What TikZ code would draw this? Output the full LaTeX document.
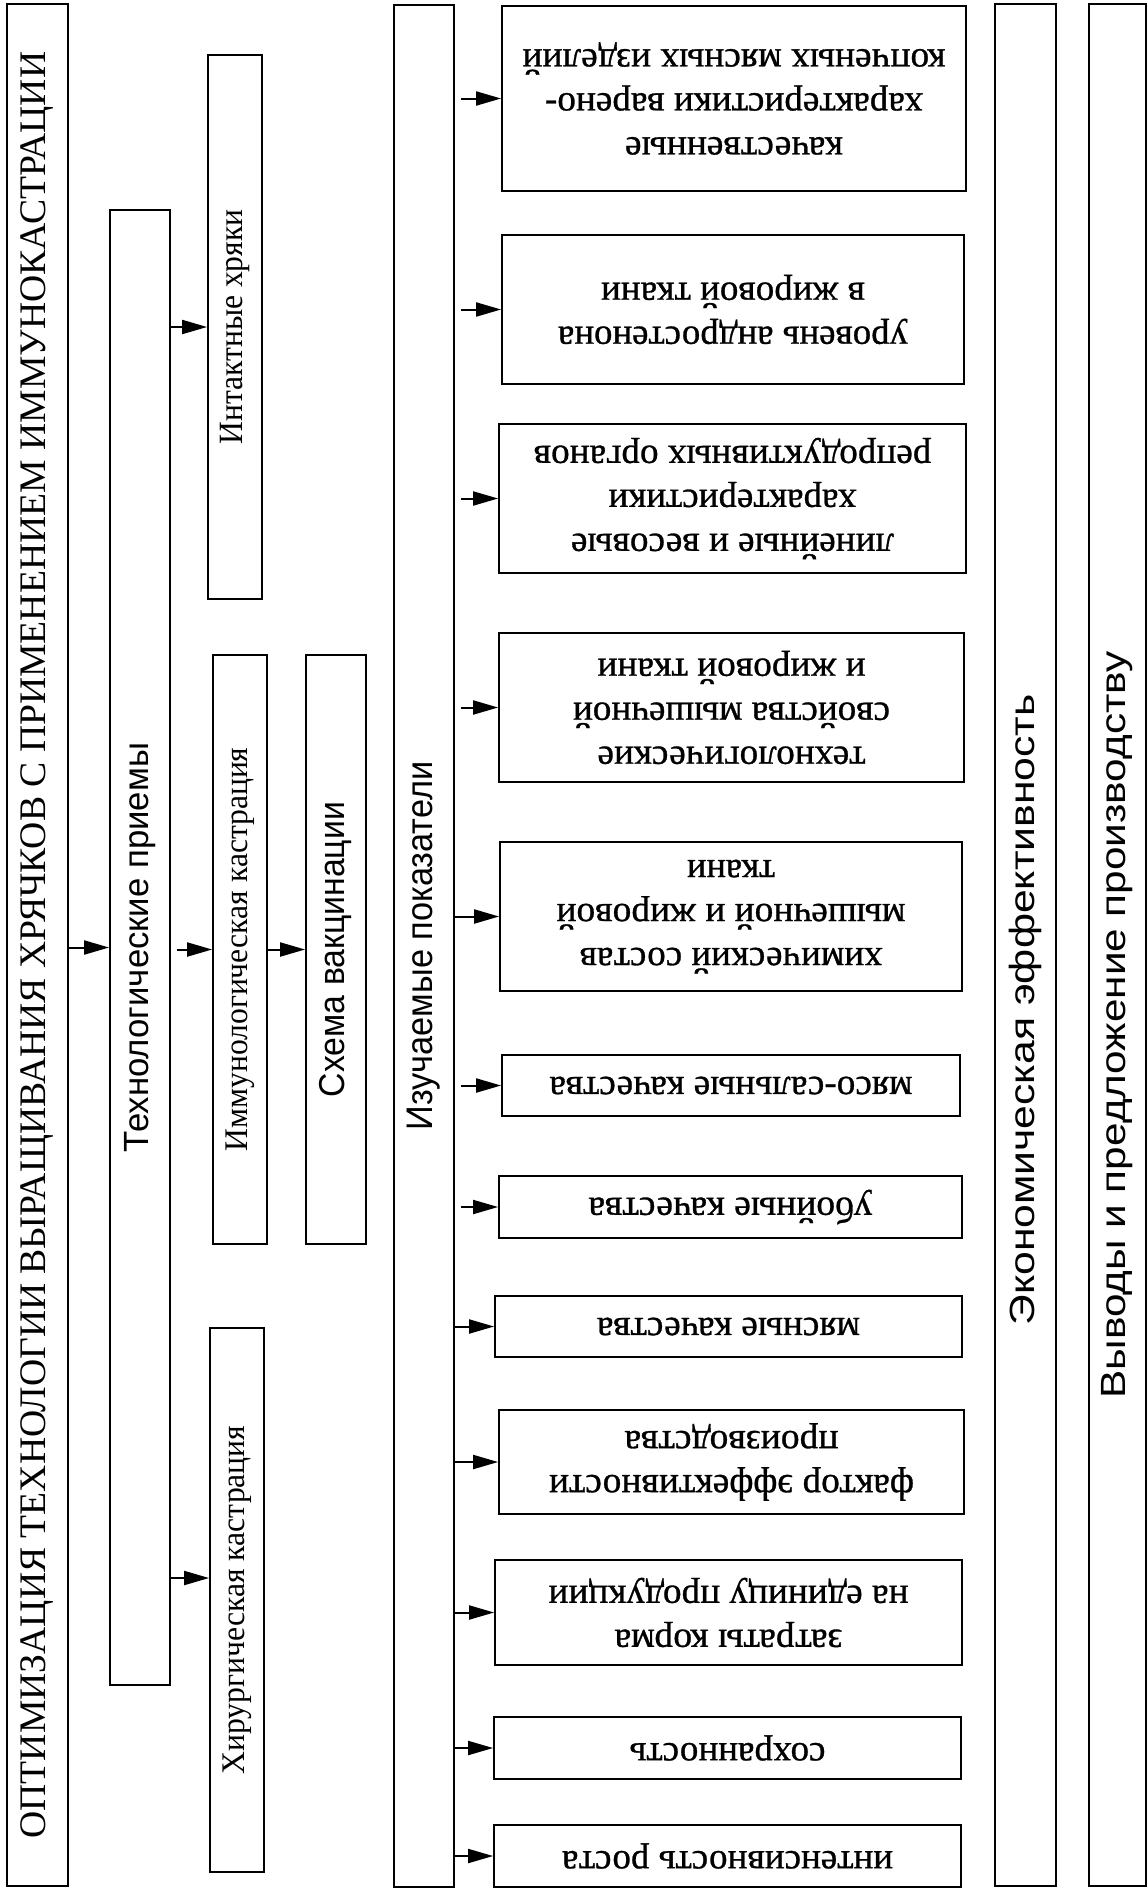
\documentclass[tikz,border=0pt]{standalone}
\usepackage{fontspec}
\setmainfont{Liberation Serif}
\setsansfont{Liberation Sans}
\newfontfamily\rbfont[FakeBold=0.8]{Liberation Serif}
\usepackage{graphicx}
\usetikzlibrary{arrows.meta,fit}
\newcommand{\fitw}[2]{\resizebox{#1pt}{\height}{#2}}
\begin{document}
\begin{tikzpicture}[x=1pt,y=-1pt,
  box/.style={draw, line width=1.8pt, inner sep=0pt},
  vt/.style={rotate=90, inner sep=0pt},
  ut/.style={rotate=180, inner sep=0pt, align=center, font=\rbfont\fontsize{37}{44}\selectfont},
  arr/.style={line width=2pt, -{Triangle[length=25pt,width=14pt]}},
  gap/.style={shorten <=6pt}
]
\useasboundingbox[fill=white] (0,0) rectangle (1148,1890);

% left part
\node[box, fit={(7,4)(68,1886)}] (main) {};
\node[box, fit={(110,210)(170,1685)}] (tex) {};
\node[box, fit={(208,55)(262,599)}] (intact) {};
\node[box, fit={(213,655)(267,1244)}] (imm) {};
\node[box, fit={(306,655)(366,1244)}] (shema) {};
\node[box, fit={(210,1328)(264,1872)}] (hir) {};
\node[box, fit={(394,5)(454,1887)}] (izuch) {};
\node[box, fit={(995,4)(1056,1886)}] (econ) {};
\node[box, fit={(1089,4)(1146,1886)}] (vyv) {};

\node[vt, font=\fontsize{37.5}{44}\selectfont] (ttitle) at (main.center) {\fitw{1787}{ОПТИМИЗАЦИЯ ТЕХНОЛОГИИ ВЫРАЩИВАНИЯ ХРЯЧКОВ С ПРИМЕНЕНИЕМ ИММУНОКАСТРАЦИИ}};
\node[vt, font=\sffamily\fontsize{35}{42}\selectfont] (ttex) at (tex.center) {\fitw{409}{Технологические приемы}};
\node[vt, font=\fontsize{34}{40}\selectfont] (tintact) at (intact.center) {\fitw{235}{Интактные хряки}};
\node[vt, font=\fontsize{33}{40}\selectfont] (timm) at (imm.center) {\fitw{404}{Иммунологическая кастрация}};
\node[vt, font=\sffamily\fontsize{36}{44}\selectfont] (tshema) at (shema.center) {\fitw{295}{Схема вакцинации}};
\node[vt, font=\fontsize{33}{40}\selectfont] (thir) at (hir.center) {\fitw{349}{Хирургическая кастрация}};
\node[vt, font=\sffamily\fontsize{37}{44}\selectfont] (tizuch) at (izuch.center) {\fitw{369}{Изучаемые показатели}};
\node[vt, font=\sffamily\fontsize{35}{44}\selectfont] (tecon) at (econ.center |- 0,1010) {\fitw{631}{Экономическая эффективность}};
\node[vt, font=\sffamily\fontsize{35}{44}\selectfont] (tvyv) at (vyv.center |- 0,1025) {\fitw{747}{Выводы и предложение производству}};

% right column boxes
\node[box, fit={(502,6)(966,191)}] (b1) {};
\node[box, fit={(502,235)(964,384)}] (b2) {};
\node[box, fit={(499,424)(966,573)}] (b3) {};
\node[box, fit={(499,633)(964,782)}] (b4) {};
\node[box, fit={(500,842)(962,991)}] (b5) {};
\node[box, fit={(502,1055)(960,1116)}] (b6) {};
\node[box, fit={(499,1176)(962,1238)}] (b7) {};
\node[box, fit={(495,1296)(962,1357)}] (b8) {};
\node[box, fit={(499,1410)(964,1514)}] (b9) {};
\node[box, fit={(495,1560)(962,1665)}] (b10) {};
\node[box, fit={(494,1717)(961,1779)}] (b11) {};
\node[box, fit={(494,1825)(961,1887)}] (b12) {};

\node[ut] (t1) at (b1.center) {\fitw{218}{качественные}\\\fitw{378}{характеристики варено-}\\\fitw{423}{копченых мясных изделий}};
\node[ut] (t2) at (b2.center) {\fitw{350}{уровень андростенона}\\\fitw{264}{в жировой ткани}};
\node[ut] (t3) at (b3.center) {\fitw{323}{линейные и весовые}\\\fitw{248}{характеристики}\\\fitw{398}{репродуктивных органов}};
\node[ut] (t4) at (b4.center) {\fitw{268}{технологические}\\\fitw{317}{свойства мышечной}\\\fitw{268}{и жировой ткани}};
\node[ut] (t5) at (b5.center) {\fitw{303}{химический состав}\\\fitw{349}{мышечной и жировой}\\\fitw{88}{ткани}};
\node[ut] (t6) at (b6.center) {\fitw{363}{мясо-сальные качества}};
\node[ut] (t7) at (b7.center) {\fitw{284}{убойные качества}};
\node[ut] (t8) at (b8.center) {\fitw{263}{мясные качества}};
\node[ut] (t9) at (b9.center) {\fitw{365}{фактор эффективности}\\\fitw{214}{производства}};
\node[ut] (t10) at (b10.center) {\fitw{228}{затраты корма}\\\fitw{360}{на единицу продукции}};
\node[ut] (t11) at (b11.center) {\fitw{196}{сохранность}};
\node[ut] (t12) at (b12.center) {\fitw{331}{интенсивность роста}};

% connectors
\draw[arr] (main.east |- tex.west) -- (tex.west);
\draw[arr] (tex.east |- intact.west) -- (intact.west);
\draw[arr, gap] (tex.east |- imm.west) -- (imm.west);
\draw[arr] (imm.east) -- (shema.west);
\draw[arr] (tex.east |- 0,1578) -- (hir.west |- 0,1578);
\foreach \i in {1,2,3,4,6,7}{
  \draw[arr, gap] (izuch.east |- b\i.west) -- (b\i.west);
}
\foreach \i in {5,8,9,10,11,12}{
  \draw[arr] (izuch.east |- b\i.west) -- (b\i.west);
}
\end{tikzpicture}
\end{document}
